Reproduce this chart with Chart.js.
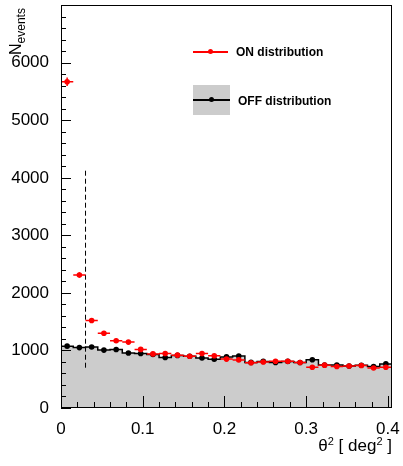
<!DOCTYPE html>
<html>
<head>
<meta charset="utf-8">
<script src="https://cdn.jsdelivr.net/npm/chart.js@4"></script>
<style>
  body { margin: 0; background: #fff; }
  #wrap { position: relative; width: 403px; height: 466px; font-family: "Liberation Sans", Arial, sans-serif; }
  #wrap canvas { position: absolute; left: 0; top: 0; }
  .txt { position: absolute; white-space: nowrap; color: #000; }
  .ytitle { left: 8px; top: 55px; font-size: 16px; line-height: 16px; transform: rotate(-90deg); transform-origin: 0 0; }
  .ytitle sub { font-size: 12px; vertical-align: -4px; }
  .xtitle { right: 11px; top: 431px; font-size: 17px; line-height: 20px; }
  .xtitle sup { font-size: 11px; vertical-align: 6px; }
  .leg { font-size: 12px; font-weight: bold; line-height: 14px; }
  .box { position: absolute; }
</style>
</head>
<body>
<div id="wrap">
  <canvas id="theta2" width="403" height="466"></canvas>
  <div class="txt ytitle">N<sub>events</sub></div>
  <div class="txt xtitle">θ<sup>2</sup> [ deg<sup>2</sup> ]</div>

  <div class="box" style="left:193px;top:51px;width:35px;height:1.5px;background:#ff0000"></div>
  <div class="box" style="left:208px;top:49px;width:5px;height:5px;border-radius:50%;background:#ff0000"></div>
  <div class="txt leg" style="left:236px;top:45px">ON distribution</div>

  <div class="box" style="left:193px;top:85px;width:37px;height:30px;background:#cccccc"></div>
  <div class="box" style="left:193px;top:99px;width:37px;height:1.5px;background:#000"></div>
  <div class="box" style="left:209px;top:97px;width:5px;height:5px;border-radius:50%;background:#000"></div>
  <div class="txt leg" style="left:238px;top:94px">OFF distribution</div>
</div>
<script>
// theta^2 histogram: ON region counts vs OFF (background) counts
const binCenters = [0.0075, 0.0225, 0.0375, 0.0525, 0.0675, 0.0825, 0.0975, 0.1125, 0.1275,
                    0.1425, 0.1575, 0.1725, 0.1875, 0.2025, 0.2175, 0.2325, 0.2475, 0.2625,
                    0.2775, 0.2925, 0.3075, 0.3225, 0.3375, 0.3525, 0.3675, 0.3825, 0.3975];
const binHalfWidth = 0.0075;
const onCounts  = [5670, 2310, 1520, 1300, 1168, 1145, 1018, 940, 946,
                   918, 898, 946, 908, 850, 836, 787, 800, 812,
                   812, 790, 708, 745, 720, 731, 738, 694, 708];
const offCounts = [1075, 1050, 1060, 1006, 1016, 957, 946, 929, 878,
                   914, 900, 870, 847, 888, 902, 792, 810, 790,
                   810, 790, 838, 746, 746, 731, 744, 722, 766];
const cutTheta2 = 0.03;
const cutRange = [700, 4140];
const yTickLabels = [0, 1000, 2000, 3000, 4000, 5000, 6000];
const xTickLabels = [0, 0.1, 0.2, 0.3, 0.4];

const xMax = binCenters[binCenters.length - 1] + binHalfWidth;
const yMax = 7003;

// step outline of the OFF histogram (points on lower bin edges)
const offStep = binCenters.map((c, i) => ({ x: c - binHalfWidth, y: offCounts[i] }));
offStep.push({ x: xMax, y: offCounts[offCounts.length - 1] });

function errorBars(counts, withX) {
  const pts = [];
  binCenters.forEach((c, i) => {
    const v = counts[i], e = Math.sqrt(v);
    pts.push({ x: c, y: v - e }, { x: c, y: v + e }, { x: c, y: null });
    if (withX) pts.push({ x: c - binHalfWidth, y: v }, { x: c + binHalfWidth, y: v }, { x: c, y: null });
  });
  return pts;
}
const markers = counts => binCenters.map((c, i) => ({ x: c, y: counts[i] }));

// ROOT style frame with inward ticks
const rootAxes = {
  id: 'rootAxes',
  afterDraw(chart) {
    const { ctx, chartArea: a, scales: { x, y } } = chart;
    ctx.save();
    ctx.strokeStyle = '#000';
    ctx.lineWidth = 1;
    ctx.strokeRect(a.left + 0.5, a.top + 0.5, a.right - a.left - 1, a.bottom - a.top - 1);
    ctx.beginPath();
    for (let v = 0; v <= yMax; v += 200) {
      const py = Math.round(y.getPixelForValue(v)) + 0.5;
      const len = v % 1000 === 0 ? 10 : 5;
      ctx.moveTo(a.left, py);
      ctx.lineTo(a.left + len, py);
    }
    for (let k = 0; k <= 20; k++) {
      const px = Math.round(x.getPixelForValue(k * 0.02)) + 0.5;
      const len = k % 5 === 0 ? 12 : 6;
      ctx.moveTo(px, a.bottom);
      ctx.lineTo(px, a.bottom - len);
    }
    ctx.stroke();
    ctx.restore();
  }
};

const tickFont = { family: '"Liberation Sans", Arial, sans-serif', size: 17 };

const ctx = document.getElementById('theta2').getContext('2d');
new Chart(ctx, {
  type: 'line',
  data: {
    datasets: [
      {
        label: 'ON points',
        data: markers(onCounts),
        showLine: false,
        pointRadius: 2.8,
        pointBorderWidth: 0,
        pointBackgroundColor: '#ff0000',
        order: 1
      },
      {
        label: 'ON errors',
        data: errorBars(onCounts, true),
        borderColor: '#ff0000',
        borderWidth: 1.5,
        pointRadius: 0,
        spanGaps: false,
        order: 2
      },
      {
        label: 'OFF points',
        data: markers(offCounts),
        showLine: false,
        pointRadius: 2.8,
        pointBorderWidth: 0,
        pointBackgroundColor: '#000',
        order: 3
      },
      {
        label: 'OFF errors',
        data: errorBars(offCounts, false),
        borderColor: '#000',
        borderWidth: 1,
        pointRadius: 0,
        spanGaps: false,
        order: 4
      },
      {
        label: 'cut',
        data: [{ x: cutTheta2, y: cutRange[0] }, { x: cutTheta2, y: cutRange[1] }],
        borderColor: '#000',
        borderWidth: 1,
        borderDash: [5, 3],
        pointRadius: 0,
        order: 5
      },
      {
        label: 'OFF distribution',
        data: offStep,
        stepped: true,
        fill: 'origin',
        backgroundColor: '#cccccc',
        borderColor: '#000',
        borderWidth: 1.5,
        pointRadius: 0,
        order: 10
      }
    ]
  },
  options: {
    responsive: false,
    animation: false,
    layout: { padding: { left: 0, right: 11, top: 5, bottom: 0 } },
    plugins: { legend: { display: false }, tooltip: { enabled: false } },
    scales: {
      x: {
        type: 'linear',
        min: 0,
        max: xMax,
        grid: { display: false },
        border: { display: false },
        afterBuildTicks: s => { s.ticks = xTickLabels.map(v => ({ value: v })); },
        afterFit: s => { s.height = 58; s.paddingLeft = 0; s.paddingRight = 0; },
        ticks: {
          padding: 3,
          maxRotation: 0,
          color: '#000',
          font: tickFont,
          callback: v => String(Math.round(v * 10) / 10)
        }
      },
      y: {
        type: 'linear',
        min: 0,
        max: yMax,
        grid: { display: false },
        border: { display: false },
        afterBuildTicks: s => { s.ticks = yTickLabels.map(v => ({ value: v })); },
        afterFit: s => { s.width = 61; s.paddingTop = 0; s.paddingBottom = 0; },
        ticks: {
          padding: 4,
          color: '#000',
          font: tickFont,
          callback: v => String(v)
        }
      }
    }
  },
  plugins: [rootAxes]
});
</script>
</body>
</html>
